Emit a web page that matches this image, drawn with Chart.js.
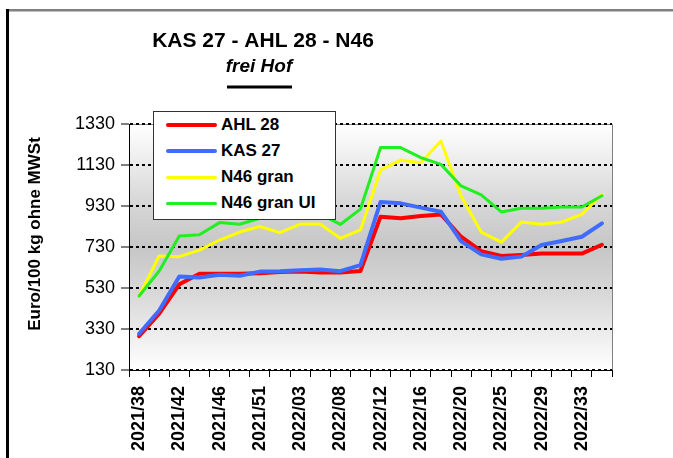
<!DOCTYPE html>
<html>
<head>
<meta charset="utf-8">
<script src="https://cdn.jsdelivr.net/npm/chart.js@4.4.0/dist/chart.umd.min.js"></script>
<style>
  body { margin: 0; background: #fff; }
  #wrap { position: relative; width: 673px; height: 458px; }
  #legend {
    position: absolute; left: 153px; top: 111px; width: 181px; height: 107px;
    background: #fff; border: 1px solid #333;
    font: bold 17px "Liberation Sans", Arial, sans-serif; color: #000;
  }
  #legend .row { position: absolute; left: 0; width: 100%; height: 26px; }
  #legend .swatch { position: absolute; left: 12px; width: 51px; }
  #legend .lbl { position: absolute; left: 67px; top: 0; line-height: 26px; white-space: nowrap; }
</style>
</head>
<body>
<div id="wrap">
  <canvas id="myChart"></canvas>
  <div id="legend"></div>
</div>
<script>
// weeks (year/calendar week), only every second one is labelled
const weeks = ['2021/38','2021/40','2021/42','2021/44','2021/46','2021/48','2021/51','2022/01',
               '2022/03','2022/05','2022/08','2022/10','2022/12','2022/14','2022/16','2022/18',
               '2022/20','2022/22','2022/25','2022/27','2022/29','2022/31','2022/33','2022/35'];

// prices in Euro/100 kg without VAT
const ahl28 = [295, 405, 548, 600, 600, 600, 602, 608, 610, 606, 605, 613,
               878, 870, 881, 889, 780, 710, 686, 691, 698, 698, 698, 741];
const kas27 = [307, 420, 586, 581, 595, 590, 610, 612, 617, 620, 612, 642,
               950, 943, 922, 902, 759, 694, 673, 683, 740, 759, 780, 845];
const n46gran = [491, 686, 683, 715, 764, 803, 830, 800, 842, 842, 772, 813,
                 1106, 1154, 1141, 1247, 979, 803, 754, 852, 841, 852, 889, 987];
const n46granUI = [491, 613, 784, 790, 849, 841, 870, 890, 895, 890, 840, 915,
                   1215, 1215, 1166, 1133, 1028, 984, 901, 919, 919, 925, 925, 980];

const yTicks = [130, 330, 530, 730, 930, 1130, 1330];

const FONT = '"Liberation Sans", Arial, sans-serif';

// background gradient, frame and the texts around the plot
const decoPlugin = {
    id: 'deco',
    beforeDraw(chart) {
        const ctx = chart.ctx;
        const a = chart.chartArea;
        ctx.save();
        var gradient = ctx.createLinearGradient(0, a.top, 0, a.bottom);
        gradient.addColorStop(0, '#ffffff');
        gradient.addColorStop(0.1, '#f3f3f3');
        gradient.addColorStop(0.3, '#d9d9d9');
        gradient.addColorStop(0.5, '#c6c6c6');
        gradient.addColorStop(0.7, '#d9d9d9');
        gradient.addColorStop(0.88, '#f0f0f0');
        gradient.addColorStop(1, '#ffffff');
        ctx.fillStyle = gradient;
        ctx.fillRect(a.left, a.top, a.right - a.left, a.bottom - a.top);
        // grey top and right border of the plot
        ctx.strokeStyle = '#808080';
        ctx.lineWidth = 1;
        ctx.beginPath();
        ctx.moveTo(a.left, a.top + 0.5);
        ctx.lineTo(a.right + 0.5, a.top + 0.5);
        ctx.lineTo(a.right + 0.5, a.bottom);
        ctx.stroke();
        // page frame
        ctx.fillStyle = '#808080';
        ctx.fillRect(6, 9, 667, 2.5);
        ctx.fillStyle = '#000';
        ctx.fillRect(6, 9, 3, 449);
        ctx.restore();
    },
    afterDraw(chart) {
        const ctx = chart.ctx;
        ctx.save();
        ctx.fillStyle = '#000';
        ctx.textAlign = 'center';
        ctx.textBaseline = 'alphabetic';
        ctx.font = 'bold 21px ' + FONT;
        ctx.fillText('KAS 27 - AHL 28 - N46', 263, 47);
        ctx.font = 'italic bold 19px ' + FONT;
        ctx.fillText('frei Hof', 259, 72);
        ctx.fillRect(227, 85.5, 65, 3);
        // y axis title
        ctx.translate(35, 234);
        ctx.rotate(-Math.PI / 2);
        ctx.textBaseline = 'middle';
        ctx.font = 'bold 17px ' + FONT;
        ctx.fillText('Euro/100 kg ohne MWSt', 0, 0);
        ctx.restore();
    }
};

const ctx = document.getElementById('myChart').getContext('2d');
const myChart = new Chart(ctx, {
    type: 'line',
    data: {
        labels: weeks,
        datasets: [
            { label: 'AHL 28', data: ahl28, borderColor: '#ff0000', borderWidth: 4, order: 2 },
            { label: 'KAS 27', data: kas27, borderColor: '#3f6cff', borderWidth: 4, order: 1 },
            { label: 'N46 gran', data: n46gran, borderColor: '#ffff00', borderWidth: 3, order: 4 },
            { label: 'N46 gran UI', data: n46granUI, borderColor: '#22ee22', borderWidth: 3, order: 3 }
        ]
    },
    options: {
        responsive: true,
        maintainAspectRatio: false,
        animation: false,
        elements: {
            point: { radius: 0 },
            line: { tension: 0, fill: false, borderJoinStyle: 'round', borderCapStyle: 'round' }
        },
        layout: { padding: { top: 124, right: 61, left: 0, bottom: 0 } },
        plugins: {
            legend: { display: false },
            tooltip: { enabled: false }
        },
        scales: {
            x: {
                type: 'category',
                offset: true,
                afterFit(scale) { scale.height = 88; },
                grid: {
                    offset: true,
                    drawOnChartArea: false,
                    drawTicks: true,
                    tickLength: 7,
                    tickColor: '#000',
                    tickWidth: 1
                },
                border: { display: true, color: '#000', width: 1 },
                ticks: {
                    autoSkip: false,
                    minRotation: 90,
                    maxRotation: 90,
                    padding: 9,
                    color: '#000',
                    font: { family: FONT, size: 18, weight: 'bold' },
                    callback: function(val, i) {
                        return i % 2 === 0 ? this.getLabelForValue(val) : '';
                    }
                }
            },
            y: {
                min: yTicks[0],
                max: yTicks[yTicks.length - 1],
                afterFit(scale) { scale.width = 129; },
                afterBuildTicks(scale) { scale.ticks = yTicks.map(v => ({ value: v })); },
                grid: {
                    color: '#000',
                    lineWidth: 2,
                    drawTicks: true,
                    tickLength: 8,
                    tickColor: '#000',
                    tickWidth: 1,
                    tickBorderDash: []
                },
                border: { display: true, color: '#000', width: 1, dash: [3, 3] },
                ticks: {
                    padding: 6,
                    color: '#000',
                    font: { family: FONT, size: 18 },
                    callback: (val) => String(val)
                }
            }
        }
    },
    plugins: [decoPlugin]
});

// legend box drawn as html, built from the chart datasets
const legendBox = document.getElementById('legend');
myChart.data.datasets.forEach((ds, i) => {
    const row = document.createElement('div');
    row.className = 'row';
    row.style.top = (i * 26) + 'px';
    const sw = document.createElement('div');
    sw.className = 'swatch';
    sw.style.height = ds.borderWidth + 'px';
    sw.style.top = (13 - ds.borderWidth / 2) + 'px';
    sw.style.background = ds.borderColor;
    sw.style.borderRadius = '2px';
    const lbl = document.createElement('div');
    lbl.className = 'lbl';
    lbl.textContent = ds.label;
    row.appendChild(sw);
    row.appendChild(lbl);
    legendBox.appendChild(row);
});
</script>
</body>
</html>
